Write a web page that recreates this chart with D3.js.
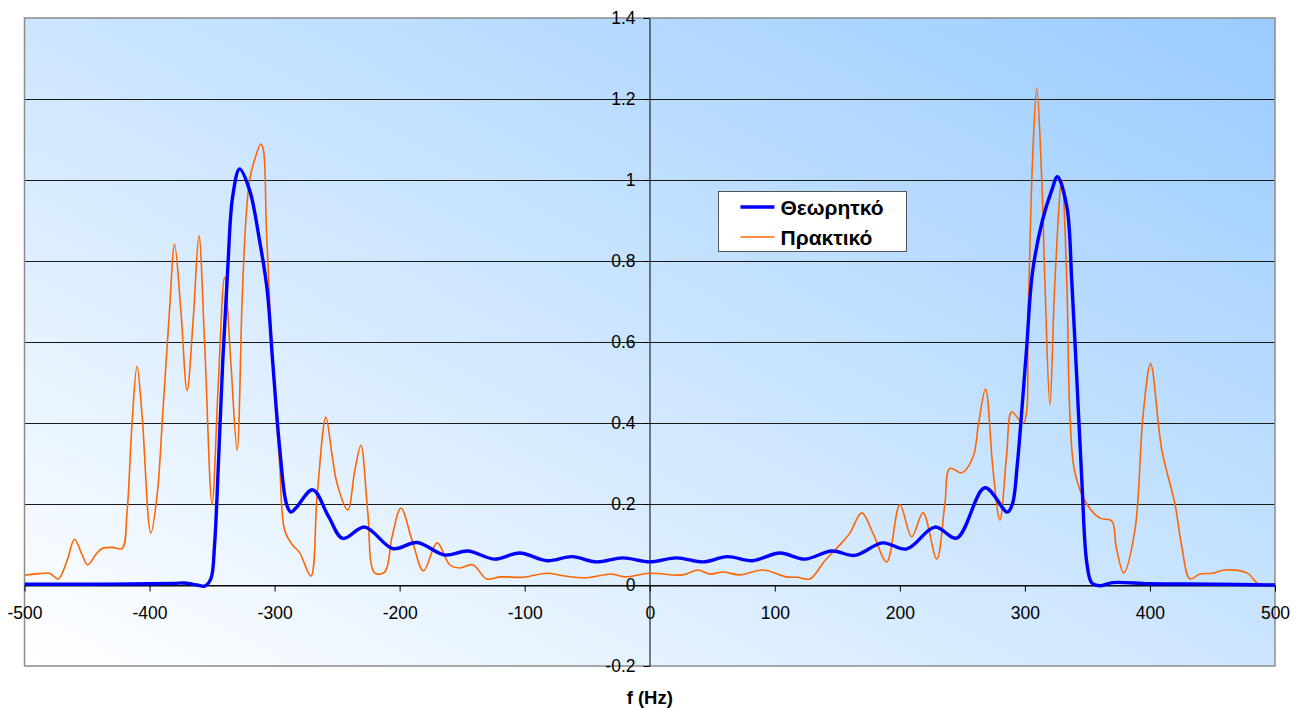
<!DOCTYPE html>
<html>
<head>
<meta charset="utf-8">
<script src="https://cdn.jsdelivr.net/npm/d3@7"></script>
<style>
  html, body { margin: 0; padding: 0; background: #fff; }
  svg { display: block; font-family: "Liberation Sans", Arial, sans-serif; }
</style>
</head>
<body>
<svg id="chart" width="1298" height="709"></svg>
<script>
// Frequency grid (Hz) and magnitude for the theoretical spectrum
const theoryFreq = [-500, -450, -400, -380, -372, -362, -356, -351, -348, -346, -341.5, -337.5, -333.5, -328,
  -320, -312, -306, -301.5, -296, -290.5, -287, -283, -269.5, -257, -245.5, -228, -205.5, -186, -164,
  -145.5, -124, -104, -82, -62, -42.5, -21.5, 0, 21.5, 42.5, 62, 82, 104, 124, 145.5, 164, 186, 205.5,
  228, 245.5, 268, 286, 290, 294, 297.5, 301.5, 306, 314, 321.5, 326, 333.5, 337.5, 341.5, 345.5,
  349.5, 353.5, 360, 370, 400, 450, 500];
const theoryMag = [0.002, 0.002, 0.003, 0.004, 0.005, 0.0, -0.003, 0.015, 0.1, 0.22, 0.55, 0.78, 0.96, 1.027,
  0.975, 0.85, 0.73, 0.55, 0.34, 0.2, 0.18, 0.19, 0.235, 0.17, 0.115, 0.143, 0.09, 0.105, 0.074,
  0.084, 0.064, 0.079, 0.06, 0.07, 0.057, 0.067, 0.057, 0.067, 0.057, 0.07, 0.06, 0.079, 0.064, 0.084, 0.073, 0.104, 0.089,
  0.143, 0.116, 0.24, 0.18, 0.2, 0.3, 0.43, 0.59, 0.77, 0.9, 0.975, 1.008, 0.935, 0.75, 0.51, 0.26,
  0.055, 0.005, -0.002, 0.006, 0.003, 0.002, 0.0];

// Frequency grid (Hz) and magnitude for the measured spectrum
const measFreq = [-500, -488, -480, -473, -466, -460, -454, -449.5, -443, -438, -430, -422, -418, -414, -410,
  -406, -399, -394, -389.5, -384, -380, -375, -370, -365, -360.5, -356, -350, -345, -340, -335, -330,
  -326, -323, -320, -316, -311, -309, -306.5, -301.5, -296, -292, -286, -280, -271, -266, -259, -254,
  -250, -241.5, -236, -231, -225.5, -220, -212, -206, -199, -190, -181, -170, -160, -152, -141.5, -130.5,
  -120, -101.5, -82, -69.5, -50.5, -30.5, -20, 0, 26.5, 38.5, 48, 58.5, 72, 90.5, 109.5, 118, 128, 140,
  152, 160, 169.5, 178.5, 189.5, 200, 209.5, 218.5, 229.5, 236, 240, 249.5, 258.5, 263, 268.5, 274.5,
  280, 285.5, 289.5, 298.5, 302.5, 306, 309.5, 313.5, 316, 320, 324, 329.5, 333.5, 336, 340, 349.5,
  360, 369.5, 373, 379, 388, 394.5, 400.5, 409.5, 420, 425.5, 432, 440, 450, 460, 477.5, 488, 500];
const measMag = [0.024, 0.028, 0.029, 0.015, 0.06, 0.113, 0.075, 0.05, 0.075, 0.09, 0.093, 0.09, 0.18, 0.4, 0.54,
  0.42, 0.128, 0.22, 0.42, 0.68, 0.842, 0.68, 0.48, 0.66, 0.862, 0.6, 0.2, 0.5, 0.76, 0.55, 0.333,
  0.7, 0.9, 1.0, 1.05, 1.089, 1.075, 0.877, 0.55, 0.3, 0.136, 0.1, 0.08, 0.022, 0.22, 0.414, 0.32,
  0.25, 0.185, 0.28, 0.345, 0.18, 0.03, 0.032, 0.12, 0.19, 0.11, 0.035, 0.104, 0.05, 0.042, 0.05, 0.015,
  0.02, 0.019, 0.029, 0.023, 0.018, 0.027, 0.02, 0.029, 0.025, 0.037, 0.027, 0.032, 0.025, 0.037, 0.02, 0.019, 0.015, 0.06,
  0.099, 0.128, 0.178, 0.128, 0.057, 0.198, 0.119, 0.178, 0.064, 0.2, 0.288, 0.277, 0.316, 0.4, 0.484, 0.284,
  0.16, 0.325, 0.427, 0.4, 0.67, 1.04, 1.227, 1.0, 0.75, 0.444, 0.75, 1.0, 0.75, 0.42, 0.277, 0.2,
  0.165, 0.158, 0.094, 0.03, 0.136, 0.42, 0.546, 0.333, 0.2, 0.094, 0.015, 0.027, 0.029, 0.037, 0.03, 0.0, 0.003];

const xTicks = [-500, -400, -300, -200, -100, 0, 100, 200, 300, 400, 500];
const yTicks = [-0.2, 0, 0.2, 0.4, 0.6, 0.8, 1, 1.2, 1.4];
const seriesNames = ["Θεωρητκό", "Πρακτικό"];
const axisTitle = "f (Hz)";

const svg = d3.select("#chart");
const plot = { left: 24.5, right: 1275, top: 18, bottom: 666 };

const x = d3.scaleLinear().domain([-500, 500]).range([plot.left, plot.right]);
const y = d3.scaleLinear().domain([-0.2, 1.4]).range([plot.bottom, plot.top]);

// Diagonal background gradient: white at lower left to light blue at upper right
const defs = svg.append("defs");
const grad = defs.append("linearGradient").attr("id", "bg")
  .attr("x1", 0).attr("y1", 1).attr("x2", 1).attr("y2", 0);
grad.append("stop").attr("offset", 0).attr("stop-color", "#ffffff");
grad.append("stop").attr("offset", 1).attr("stop-color", "#99ccff");
defs.append("clipPath").attr("id", "plotClip").append("rect")
  .attr("x", plot.left).attr("y", plot.top)
  .attr("width", plot.right - plot.left).attr("height", plot.bottom - plot.top);

svg.append("rect")
  .attr("x", plot.left).attr("y", plot.top)
  .attr("width", plot.right - plot.left).attr("height", plot.bottom - plot.top)
  .attr("fill", "url(#bg)");

// Horizontal gridlines
svg.append("g").selectAll("line")
  .data(yTicks.filter(v => v > -0.2 && v < 1.4))
  .join("line")
  .attr("x1", plot.left).attr("x2", plot.right)
  .attr("y1", d => Math.round(y(d)) + 0.5).attr("y2", d => Math.round(y(d)) + 0.5)
  .attr("stroke", "#1a1a1a").attr("stroke-width", 1);

// Plot frame
svg.append("rect")
  .attr("x", plot.left).attr("y", plot.top)
  .attr("width", plot.right - plot.left).attr("height", plot.bottom - plot.top)
  .attr("fill", "none").attr("stroke", "#8c8c8c").attr("stroke-width", 1.5);

const fmt = d => String(+d.toFixed(1));

// X axis through y = 0
const xAxis = svg.append("g")
  .attr("transform", `translate(0,${Math.round(y(0)) + 0.5})`)
  .call(d3.axisBottom(x).tickValues(xTicks).tickFormat(fmt).tickSize(6).tickSizeOuter(0));
xAxis.select(".domain").attr("stroke", "#000");
xAxis.selectAll(".tick line").attr("stroke", "#000");
xAxis.selectAll(".tick text")
  .attr("y", 33).attr("dy", 0)
  .attr("fill", "#000").attr("font-size", 17.5).attr("font-family", "'Liberation Sans', Arial, sans-serif");

// Y axis through f = 0
const yAxis = svg.append("g")
  .attr("transform", `translate(${Math.round(x(0)) - 0.5},0)`)
  .call(d3.axisLeft(y).tickValues(yTicks).tickFormat(fmt).tickSize(6).tickPadding(8).tickSizeOuter(0));
yAxis.select(".domain").attr("stroke", "#000");
yAxis.selectAll(".tick line").attr("stroke", "#000");
yAxis.selectAll(".tick text")
  .attr("fill", "#000").attr("font-size", 17.5).attr("font-family", "'Liberation Sans', Arial, sans-serif");

// Spectrum curves
const line = d3.line()
  .x(d => x(d[0])).y(d => y(d[1]))
  .curve(d3.curveCatmullRom.alpha(0.5));

const theory = theoryFreq.map((f, i) => [f, theoryMag[i]]);
const measured = measFreq.map((f, i) => [f, measMag[i]]);

const curves = svg.append("g").attr("clip-path", "url(#plotClip)");
curves.append("path").datum(measured)
  .attr("d", line).attr("fill", "none")
  .attr("stroke", "#ff6600").attr("stroke-width", 1.6).attr("stroke-linejoin", "round");
curves.append("path").datum(theory)
  .attr("d", line).attr("fill", "none")
  .attr("stroke", "#0000ff").attr("stroke-width", 3.4).attr("stroke-linejoin", "round");

// Legend
const legend = svg.append("g").attr("transform", "translate(718.5,191.5)");
legend.append("rect").attr("width", 188).attr("height", 60)
  .attr("fill", "#fff").attr("stroke", "#555").attr("stroke-width", 1);
const legendStyles = [{ color: "#0000ff", width: 3.4 }, { color: "#ff6600", width: 1.6 }];
seriesNames.forEach((name, i) => {
  const cy = 15.5 + i * 30;
  legend.append("line").attr("x1", 22).attr("x2", 56).attr("y1", cy).attr("y2", cy)
    .attr("stroke", legendStyles[i].color).attr("stroke-width", legendStyles[i].width);
  legend.append("text").attr("x", 62).attr("y", cy + 7.5)
    .attr("font-size", 21).attr("font-weight", "bold").attr("fill", "#000")
    .text(name);
});

// Axis title
svg.append("text")
  .attr("x", x(0)).attr("y", 704)
  .attr("text-anchor", "middle")
  .attr("font-size", 18.5).attr("font-weight", "bold").attr("fill", "#000")
  .text(axisTitle);
</script>
</body>
</html>
